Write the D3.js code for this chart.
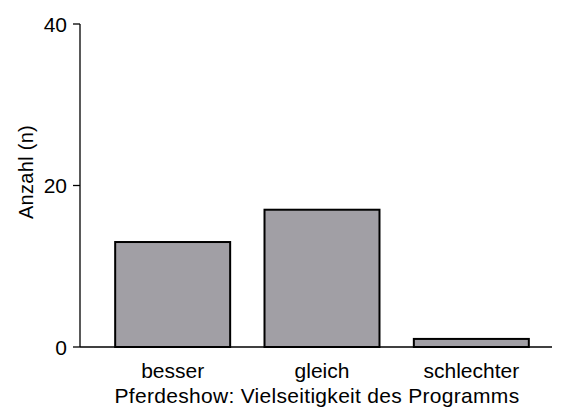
<!DOCTYPE html>
<html><head><meta charset="utf-8">
<script src="https://cdn.jsdelivr.net/npm/d3@7"></script>
<style>body{margin:0;background:#fff}text{font-family:"Liberation Sans",Arial,sans-serif;fill:#000}</style>
</head><body><svg id="c" width="568" height="407"></svg>
<script>
const categories = ["besser", "gleich", "schlechter"];
const values = [13, 17, 1];
const yTicks = [0, 20, 40];
const xTitle = "Pferdeshow: Vielseitigkeit des Programms";
const yTitle = "Anzahl (n)";

const svg = d3.select("#c");
const x = d3.scaleBand().domain(categories).range([98, 546]).paddingInner(0.23).paddingOuter(0.115);
const y = d3.scaleLinear().domain([0, 40]).range([347, 24]);

svg.append("line").attr("x1", 80).attr("x2", 80).attr("y1", y(40)).attr("y2", y(0)).attr("stroke", "#000").attr("stroke-width", 1.3);
svg.append("line").attr("x1", 80).attr("x2", 552).attr("y1", y(0)).attr("y2", y(0)).attr("stroke", "#000").attr("stroke-width", 1.3);

const yt = svg.append("g").selectAll("g").data(yTicks).join("g");
yt.append("line").attr("x1", 73).attr("x2", 80).attr("y1", d => y(d)).attr("y2", d => y(d)).attr("stroke", "#000").attr("stroke-width", 1.3);
yt.append("text").attr("x", 67).attr("y", d => y(d)).attr("dy", "0.36em").attr("text-anchor", "end").attr("font-size", 21).text(d => d);

svg.append("g").selectAll("rect").data(values).join("rect")
  .attr("x", (d, i) => x(categories[i]))
  .attr("width", x.bandwidth())
  .attr("y", d => y(d))
  .attr("height", d => y(0) - y(d))
  .attr("fill", "#a19fa5").attr("stroke", "#000").attr("stroke-width", 2);

svg.append("g").selectAll("text").data(categories).join("text")
  .attr("x", d => x(d) + x.bandwidth() / 2).attr("y", 377.5)
  .attr("text-anchor", "middle").attr("font-size", 21).text(d => d);

svg.append("text").attr("x", 317).attr("y", 402.5).attr("text-anchor", "middle").attr("font-size", 21).attr("letter-spacing", 0.3).text(xTitle);
svg.append("text").attr("transform", "translate(33,172) rotate(-90)").attr("text-anchor", "middle").attr("font-size", 20).attr("letter-spacing", 0.3).text(yTitle);
</script></body></html>
